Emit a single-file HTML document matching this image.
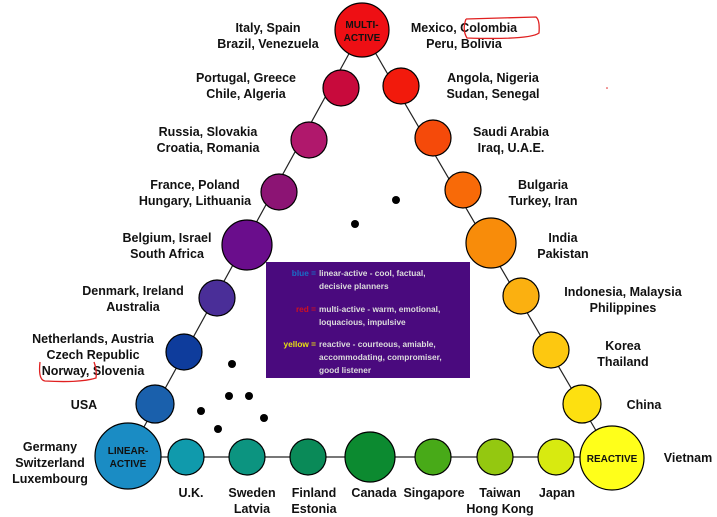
<!DOCTYPE html>
<html><head><meta charset="utf-8"><style>
html,body{margin:0;padding:0;background:#fff;width:717px;height:517px;overflow:hidden}
svg{display:block}
text{font-family:"Liberation Sans",Arial,sans-serif;font-weight:bold;font-size:12.5px;fill:#111}
text.s{font-size:10px}
text.l{font-size:8.3px;fill:#ddd}
text.lb{font-size:8.3px;fill:#1a6ec8}
text.lr{font-size:8.3px;fill:#d01020}
text.ly{font-size:8.3px;fill:#e8e010}
.c{stroke:#000;stroke-width:1.2}
</style></head><body>
<svg width="717" height="517" viewBox="0 0 717 517" xmlns="http://www.w3.org/2000/svg">
<g stroke="#222" stroke-width="1.2">
<line x1="362" y1="30" x2="128" y2="456"/>
<line x1="362" y1="30" x2="612" y2="458"/>
</g>
<line x1="128" y1="457" x2="612" y2="457" stroke="#777" stroke-width="2"/>
<circle class="c" cx="128" cy="456" r="33" fill="#1a8cc4"/>
<circle class="c" cx="155" cy="404" r="19" fill="#1a60ac"/>
<circle class="c" cx="184" cy="352" r="18" fill="#0e3c9c"/>
<circle class="c" cx="217" cy="298" r="18" fill="#4a2e98"/>
<circle class="c" cx="247" cy="245" r="25" fill="#6a0d8c"/>
<circle class="c" cx="279" cy="192" r="18" fill="#8c1474"/>
<circle class="c" cx="309" cy="140" r="18" fill="#b0186c"/>
<circle class="c" cx="341" cy="88" r="18" fill="#c80a3c"/>
<circle class="c" cx="362" cy="30" r="27" fill="#ee0f14"/>
<circle class="c" cx="401" cy="86" r="18" fill="#f21a0c"/>
<circle class="c" cx="433" cy="138" r="18" fill="#f54a0a"/>
<circle class="c" cx="463" cy="190" r="18" fill="#f86a08"/>
<circle class="c" cx="491" cy="243" r="25" fill="#f88c0a"/>
<circle class="c" cx="521" cy="296" r="18" fill="#fbb010"/>
<circle class="c" cx="551" cy="350" r="18" fill="#fdc810"/>
<circle class="c" cx="582" cy="404" r="19" fill="#fde010"/>
<circle class="c" cx="612" cy="458" r="32" fill="#ffff1a"/>
<circle class="c" cx="186" cy="457" r="18" fill="#109aac"/>
<circle class="c" cx="247" cy="457" r="18" fill="#0c9480"/>
<circle class="c" cx="308" cy="457" r="18" fill="#0a8a58"/>
<circle class="c" cx="370" cy="457" r="25" fill="#0c8a30"/>
<circle class="c" cx="433" cy="457" r="18" fill="#48aa18"/>
<circle class="c" cx="495" cy="457" r="18" fill="#94c810"/>
<circle class="c" cx="556" cy="457" r="18" fill="#d8ea10"/>
<g text-anchor="middle">
<text class="s" x="362" y="28">MULTI-</text>
<text class="s" x="362" y="41">ACTIVE</text>
<text class="s" x="128" y="454">LINEAR-</text>
<text class="s" x="128" y="467">ACTIVE</text>
<text class="s" x="612" y="462">REACTIVE</text>
</g>
<g text-anchor="middle">
<text x="268" y="32">Italy, Spain</text><text x="268" y="48">Brazil, Venezuela</text>
<text x="246" y="82">Portugal, Greece</text><text x="246" y="98">Chile, Algeria</text>
<text x="208" y="136">Russia, Slovakia</text><text x="208" y="152">Croatia, Romania</text>
<text x="195" y="189">France, Poland</text><text x="195" y="205">Hungary, Lithuania</text>
<text x="167" y="242">Belgium, Israel</text><text x="167" y="258">South Africa</text>
<text x="133" y="295">Denmark, Ireland</text><text x="133" y="311">Australia</text>
<text x="93" y="343">Netherlands, Austria</text><text x="93" y="359">Czech Republic</text><text x="93" y="375">Norway, Slovenia</text>
<text x="84" y="409">USA</text>
<text x="50" y="451">Germany</text><text x="50" y="467">Switzerland</text><text x="50" y="483">Luxembourg</text>
</g>
<g text-anchor="middle">
<text x="464" y="32">Mexico, Colombia</text><text x="464" y="48">Peru, Bolivia</text>
<text x="493" y="82">Angola, Nigeria</text><text x="493" y="98">Sudan, Senegal</text>
<text x="511" y="136">Saudi Arabia</text><text x="511" y="152">Iraq, U.A.E.</text>
<text x="543" y="189">Bulgaria</text><text x="543" y="205">Turkey, Iran</text>
<text x="563" y="242">India</text><text x="563" y="258">Pakistan</text>
<text x="623" y="296">Indonesia, Malaysia</text><text x="623" y="312">Philippines</text>
<text x="623" y="350">Korea</text><text x="623" y="366">Thailand</text>
<text x="644" y="409">China</text>
<text x="688" y="462">Vietnam</text>
</g>
<g text-anchor="middle">
<text x="191" y="497">U.K.</text>
<text x="252" y="497">Sweden</text><text x="252" y="513">Latvia</text>
<text x="314" y="497">Finland</text><text x="314" y="513">Estonia</text>
<text x="374" y="497">Canada</text>
<text x="434" y="497">Singapore</text>
<text x="500" y="497">Taiwan</text><text x="500" y="513">Hong Kong</text>
<text x="557" y="497">Japan</text>
</g>
<rect x="266" y="262" width="204" height="116" fill="#4a0a7e"/>
<text class="lb" x="316" y="276" text-anchor="end">blue =</text>
<text class="l" x="319" y="276">linear-active - cool, factual,</text>
<text class="l" x="319" y="289">decisive planners</text>
<text class="lr" x="316" y="312" text-anchor="end">red =</text>
<text class="l" x="319" y="312">multi-active - warm, emotional,</text>
<text class="l" x="319" y="325">loquacious, impulsive</text>
<text class="ly" x="316" y="347" text-anchor="end">yellow =</text>
<text class="l" x="319" y="347">reactive - courteous, amiable,</text>
<text class="l" x="319" y="360">accommodating, compromiser,</text>
<text class="l" x="319" y="373">good listener</text>
<g fill="#000">
<circle cx="396" cy="200" r="4"/><circle cx="355" cy="224" r="4"/>
<circle cx="232" cy="364" r="4"/><circle cx="229" cy="396" r="4"/>
<circle cx="249" cy="396" r="4"/>
<circle cx="201" cy="411" r="4"/><circle cx="264" cy="418" r="4"/>
<circle cx="218" cy="429" r="4"/>
</g>
<path d="M466 19 L536 17 Q540 20 539 33 Q530 40 467 38 Q462 30 466 19" fill="none" stroke="#e02020" stroke-width="1.3"/>
<path d="M40 362 Q38 380 45 381 Q80 383 96 378 Q97 370 94 362" fill="none" stroke="#e02020" stroke-width="1.3"/>
<circle cx="607" cy="88" r="0.8" fill="#e02020"/>
</svg>
</body></html>
